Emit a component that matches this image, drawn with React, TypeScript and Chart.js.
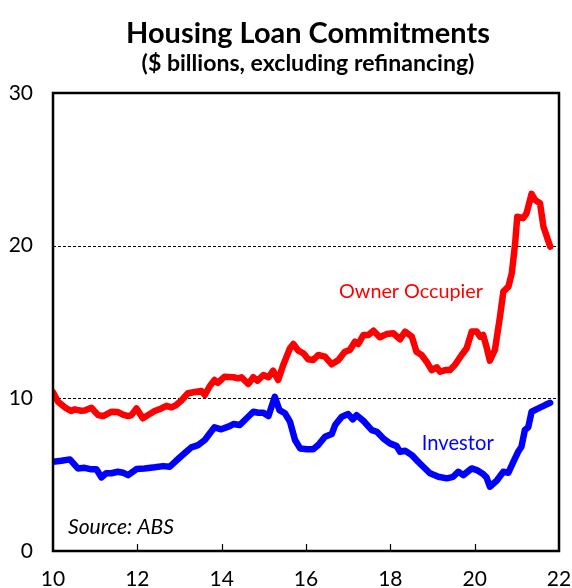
import { useEffect, useRef } from "react";
import { Chart, registerables } from "chart.js";

Chart.register(...registerables);

// ---- Data (decimal years, $ billions) ----
const ownerYears = [
  10.0, 10.12, 10.28, 10.43, 10.51, 10.67, 10.75, 10.91, 11.07, 11.19, 11.38, 11.54, 11.66, 11.78, 11.86, 11.98,
  12.13, 12.25, 12.41, 12.57, 12.69, 12.81, 12.92, 13.04, 13.2, 13.4, 13.52, 13.6, 13.72, 13.83, 13.91, 14.07,
  14.28, 14.39, 14.47, 14.63, 14.75, 14.85, 14.99, 15.11, 15.22, 15.34, 15.46, 15.62, 15.7, 15.82, 15.94, 16.05,
  16.17, 16.29, 16.45, 16.61, 16.77, 16.92, 17.04, 17.16, 17.24, 17.36, 17.48, 17.6, 17.75, 17.91, 18.07, 18.23,
  18.35, 18.51, 18.62, 18.74, 18.86, 18.98, 19.1, 19.18, 19.3, 19.41, 19.53, 19.69, 19.81, 19.93, 20.05, 20.13,
  20.2, 20.28, 20.36, 20.48, 20.6, 20.68, 20.8, 20.88, 20.96, 21.01, 21.15, 21.23, 21.35, 21.43, 21.55, 21.63,
  21.79,
];
const ownerValues = [
  10.4, 9.78, 9.41, 9.17, 9.28, 9.19, 9.2, 9.38, 8.9, 8.84, 9.12, 9.1, 8.93, 8.84, 8.9, 9.34,
  8.69, 8.9, 9.17, 9.34, 9.51, 9.41, 9.56, 9.84, 10.33, 10.43, 10.48, 10.22, 10.81, 11.2, 11.02, 11.42,
  11.38, 11.31, 11.38, 10.94, 11.38, 11.16, 11.53, 11.38, 11.81, 11.2, 12.18, 13.28, 13.56, 13.12, 12.95, 12.56,
  12.51, 12.84, 12.73, 12.23, 12.51, 13.05, 13.17, 13.71, 13.56, 14.15, 14.15, 14.43, 14.0, 14.21, 14.26, 13.87,
  14.37, 14.04, 13.05, 12.84, 12.4, 11.85, 12.03, 11.74, 11.85, 11.85, 12.18, 12.84, 13.28, 14.37, 14.37, 14.04,
  14.15, 13.38, 12.47, 13.17, 15.35, 16.99, 17.32, 18.19, 20.16, 21.9, 21.8, 22.12, 23.39, 23.0, 22.78, 21.25,
  19.94,
];

const investorYears = [
  10.0, 10.2, 10.4, 10.59, 10.75, 10.91, 11.03, 11.15, 11.26, 11.38, 11.54, 11.66, 11.78, 11.98, 12.17, 12.41,
  12.61, 12.77, 12.92, 13.12, 13.28, 13.44, 13.6, 13.72, 13.83, 13.99, 14.19, 14.28, 14.43, 14.55, 14.75, 14.87,
  14.99, 15.11, 15.26, 15.37, 15.5, 15.62, 15.74, 15.86, 16.02, 16.17, 16.29, 16.45, 16.61, 16.69, 16.85, 17.0,
  17.11, 17.2, 17.36, 17.56, 17.68, 17.83, 17.99, 18.15, 18.23, 18.35, 18.51, 18.66, 18.78, 18.94, 19.14, 19.34,
  19.49, 19.61, 19.73, 19.93, 20.05, 20.2, 20.28, 20.36, 20.52, 20.68, 20.8, 20.92, 21.03, 21.11, 21.19, 21.27,
  21.35, 21.51, 21.67, 21.79,
];
const investorValues = [
  5.85, 5.91, 6.0, 5.41, 5.45, 5.35, 5.35, 4.82, 5.09, 5.09, 5.19, 5.13, 4.97, 5.37, 5.41, 5.48,
  5.56, 5.52, 5.91, 6.4, 6.79, 6.94, 7.27, 7.71, 8.1, 7.97, 8.18, 8.32, 8.25, 8.58, 9.12, 9.06,
  9.06, 8.84, 10.1, 9.23, 9.02, 8.47, 7.27, 6.72, 6.66, 6.66, 6.94, 7.48, 7.66, 8.25, 8.8, 8.97,
  8.62, 8.9, 8.53, 7.92, 7.81, 7.38, 7.05, 6.87, 6.5, 6.57, 6.28, 5.85, 5.52, 5.09, 4.86, 4.76,
  4.86, 5.19, 4.97, 5.41, 5.3, 5.04, 4.82, 4.21, 4.6, 5.19, 5.13, 5.85, 6.5, 6.83, 7.92, 8.1,
  9.12, 9.34, 9.56, 9.71,
];

const xTickValues = [10, 12, 14, 16, 18, 20, 22];
const dashedLevels = [10, 20];

const titleText = "Housing Loan Commitments";
const subtitleText = "($ billions, excluding refinancing)";
const ownerLabel = "Owner Occupier";
const investorLabel = "Investor";
const sourceText = "Source: ABS";

const FAMILY = "Lato, 'Open Sans', 'DejaVu Sans', sans-serif";
const RED = "#ff0000";
const BLUE = "#0000ff";

function drawFitted(
  ctx: CanvasRenderingContext2D,
  text: string,
  cx: number,
  baseline: number,
  targetWidth: number,
  weight: string,
  style: string,
  color: string,
  align: CanvasTextAlign = "center"
) {
  ctx.font = `${style} ${weight} 100px ${FAMILY}`;
  const w = ctx.measureText(text).width;
  const size = (100 * targetWidth) / w;
  ctx.font = `${style} ${weight} ${size}px ${FAMILY}`;
  ctx.fillStyle = color;
  ctx.textAlign = align;
  ctx.textBaseline = "alphabetic";
  ctx.fillText(text, cx, baseline);
}

const decorPlugin = {
  id: "decor",
  beforeDatasetsDraw(chart: any) {
    const { ctx, chartArea: a, scales } = chart;
    const y = scales.y;
    ctx.save();
    ctx.strokeStyle = "#000";
    ctx.lineWidth = 1;
    ctx.setLineDash([3, 2]);
    for (const lv of dashedLevels) {
      const py = Math.round(y.getPixelForValue(lv)) + 0.5;
      ctx.beginPath();
      ctx.moveTo(a.left, py);
      ctx.lineTo(a.right, py);
      ctx.stroke();
    }
    ctx.restore();
  },
  afterDatasetsDraw(chart: any) {
    const { ctx, chartArea: a, scales } = chart;
    const x = scales.x;
    const y = scales.y;
    ctx.save();
    // plot border
    ctx.strokeStyle = "#000";
    ctx.lineWidth = 2.5;
    ctx.setLineDash([]);
    ctx.strokeRect(a.left, a.top, a.right - a.left, a.bottom - a.top);
    // inner tick marks on x axis
    ctx.lineWidth = 1.2;
    for (const v of xTickValues.slice(1, -1)) {
      const px = Math.round(x.getPixelForValue(v)) + 0.5;
      ctx.beginPath();
      ctx.moveTo(px, a.bottom);
      ctx.lineTo(px, a.bottom - 7);
      ctx.stroke();
    }
    // series labels
    drawFitted(ctx, ownerLabel, x.getPixelForValue(18.49), y.getPixelForValue(16.57), 144, "normal", "normal", RED);
    drawFitted(ctx, investorLabel, x.getPixelForValue(19.6), y.getPixelForValue(6.6), 72, "normal", "normal", BLUE);
    // source
    drawFitted(ctx, sourceText, a.left + 15, a.bottom - 17, 106, "normal", "italic", "#000", "left");
    ctx.restore();
  },
  afterDraw(chart: any) {
    const { ctx, chartArea: a } = chart;
    ctx.save();
    const cx = (a.left + a.right) / 2 + 2;
    drawFitted(ctx, titleText, cx, 43, 364, "bold", "normal", "#000");
    drawFitted(ctx, subtitleText, cx, 71, 333, "bold", "normal", "#000");
    ctx.restore();
  },
};

export default function App() {
  const canvasRef = useRef<HTMLCanvasElement | null>(null);

  useEffect(() => {
    const canvas = canvasRef.current;
    if (!canvas) return;
    const chart = new Chart(canvas, {
      type: "line",
      data: {
        datasets: [
          {
            label: ownerLabel,
            data: ownerYears.map((yr, i) => ({ x: yr, y: ownerValues[i] })),
            borderColor: RED,
            backgroundColor: RED,
            borderWidth: 6.5,
            pointRadius: 0,
            tension: 0,
            borderJoinStyle: "round",
            borderCapStyle: "round",
          },
          {
            label: investorLabel,
            data: investorYears.map((yr, i) => ({ x: yr, y: investorValues[i] })),
            borderColor: BLUE,
            backgroundColor: BLUE,
            borderWidth: 6.5,
            pointRadius: 0,
            tension: 0,
            borderJoinStyle: "round",
            borderCapStyle: "round",
          },
        ],
      },
      options: {
        responsive: false,
        animation: false,
        events: [],
        layout: { padding: { top: 93, right: 13, left: 0, bottom: 0 } },
        plugins: {
          legend: { display: false },
          tooltip: { enabled: false },
          title: { display: false },
        },
        scales: {
          x: {
            type: "linear",
            min: 10,
            max: 22,
            grid: { display: false, drawTicks: false },
            border: { display: false },
            ticks: {
              stepSize: 2,
              padding: 16,
              color: "#000",
              maxRotation: 0,
              font: { family: FAMILY, size: 21 },
            },
            afterFit: (scale: any) => {
              scale.height = 37;
              scale.paddingLeft = 0;
              scale.paddingRight = 0;
            },
          },
          y: {
            min: 0,
            max: 30,
            grid: { display: false, drawTicks: false },
            border: { display: false },
            ticks: {
              stepSize: 10,
              padding: 20,
              color: "#000",
              font: { family: FAMILY, size: 21 },
            },
            afterFit: (scale: any) => {
              scale.width = 53;
              scale.paddingTop = 0;
              scale.paddingBottom = 0;
            },
          },
        },
      },
      plugins: [decorPlugin],
    });
    return () => chart.destroy();
  }, []);

  return (
    <div style={{ position: "fixed", left: 0, top: 0, width: 572, height: 588, background: "#fff" }}>
      <canvas ref={canvasRef} width={572} height={588} style={{ width: 572, height: 588, display: "block" }} />
    </div>
  );
}
